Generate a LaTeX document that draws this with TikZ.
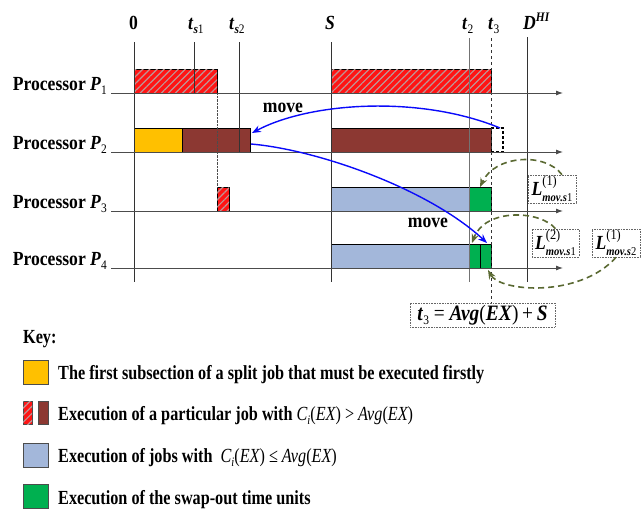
\documentclass[tikz,border=0pt]{standalone}
\usepackage{fontspec}
\setmainfont{Liberation Serif}[FakeStretch=0.88]
\newfontfamily\legfont{Liberation Serif}[FakeStretch=0.81]
\usetikzlibrary{arrows.meta,patterns.meta}
\definecolor{hred}{RGB}{255,20,20}
\definecolor{hatchc}{RGB}{190,150,150}
\definecolor{brownj}{RGB}{140,56,50}
\definecolor{yelj}{RGB}{255,192,0}
\definecolor{bluej}{RGB}{163,183,218}
\definecolor{greenj}{RGB}{0,176,80}
\definecolor{olivec}{RGB}{90,105,50}
\definecolor{arrblue}{RGB}{10,10,250}
\newcommand{\bi}[1]{\textbf{\textit{#1}}}
\newcommand{\lsub}[1]{\raisebox{-0.45ex}{\fontsize{13}{13}\selectfont #1}}
\newcommand{\lsup}[1]{\raisebox{0.85ex}{\fontsize{13}{13}\selectfont #1}}
\newcommand{\Lsup}[1]{\raisebox{1.05ex}{\fontsize{14}{14}\selectfont #1}}
\newcommand{\Lsub}[1]{\raisebox{-0.65ex}{\fontsize{12}{12}\selectfont #1}}
\begin{document}
\begin{tikzpicture}[x=1pt,y=-1pt,
  font=\fontsize{20}{22}\selectfont\bfseries,
  hatched/.style={fill=hred, postaction={pattern={Lines[angle=45,distance=5pt,line width=1.2pt]}, pattern color=hatchc}},
  bar/.style={draw=black, line width=0.9pt},
  axis/.style={draw=black!70, line width=0.9pt, -{Latex[length=7pt,width=5pt]}},
  vline/.style={black!80, line width=0.8pt},
  lbl/.style={inner sep=0pt, anchor=base west},
  moveArrow/.style={arrblue, line width=1.4pt, -{Stealth[length=9pt,width=7pt]}},
  swapArrow/.style={olivec, line width=1.6pt, dash pattern=on 6pt off 4pt, -{Stealth[length=9pt,width=7pt]}},
  lbox/.style={draw=black!60, densely dotted, line width=0.6pt, inner sep=1pt},
  legtext/.style={inner sep=0pt, anchor=base west, font=\fontsize{20}{22}\selectfont\bfseries\legfont},
]
\path[use as bounding box] (0,0) rectangle (641,509);

% bars
\draw[bar, hatched] (134,69) rectangle (217,93);
\draw[bar, hatched] (331,69) rectangle (491,93);
\draw[bar, fill=yelj] (134,128) rectangle (182,152);
\draw[bar, fill=brownj] (182,128) rectangle (250,152);
\draw[bar, fill=brownj] (331,128) rectangle (491,152);
\draw[black, line width=1.1pt, dash pattern=on 3pt off 2pt] (491,128) -- (503,128) -- (503,152) -- (491,152);
\draw[bar, hatched] (217,187) rectangle (229,211);
\draw[bar, fill=bluej] (331,187) rectangle (469,211);
\draw[bar, fill=greenj] (469,187) rectangle (491,211);
\draw[bar, fill=bluej] (331,244) rectangle (469,268);
\draw[bar, fill=greenj] (469,244) rectangle (480,268);
\draw[bar, fill=greenj] (480,244) rectangle (491,268);

% vertical time lines
\draw[vline] (134,42) -- (134,282);
\draw[vline] (194,42) -- (194,93);
\draw[vline] (239,42) -- (239,152);
\draw[vline] (331,42) -- (331,282);
\draw[vline, black!55] (469,38) -- (469,282);
\draw[vline, dashed] (491,38) -- (491,303);
\draw[vline] (527,37) -- (527,282);
\draw[densely dotted, black!70] (217,93) -- (217,187);

% axes
\draw[axis] (111,93) -- (563,93);
\draw[axis] (111,152) -- (563,152);
\draw[axis] (111,211) -- (563,211);
\draw[axis] (111,268) -- (563,268);

% processor labels
\node[lbl, anchor=base east] (p1) at (107,90) {Processor \bi{P}\lsub{\mdseries 1}};
\node[lbl, anchor=base east] (p2) at (107,149) {Processor \bi{P}\lsub{\mdseries 2}};
\node[lbl, anchor=base east] (p3) at (107,208) {Processor \bi{P}\lsub{\mdseries 3}};
\node[lbl, anchor=base east] (p4) at (107,265) {Processor \bi{P}\lsub{\mdseries 4}};

% top labels
\node[lbl] (l0) at (129,29) {0};
\node[lbl] (lts1) at (188,29) {\bi{t}\lsub{\bi{s}\mdseries 1}};
\node[lbl] (lts2) at (229,29) {\bi{t}\lsub{\bi{s}\mdseries 2}};
\node[lbl] (lS) at (325,29) {\bi{S}};
\node[lbl] (lt2) at (462,29) {\bi{t}\lsub{\mdseries 2}};
\node[lbl] (lt3) at (488,29) {\bi{t}\lsub{\mdseries 3}};
\node[lbl] (lD) at (523,29) {\bi{D}\lsup{\bi{HI}}};

% move labels
\node (mv1) at (283,108) {move};
\node (mv2) at (428,223) {move};

% L boxes
\node[lbox, minimum width=48pt, minimum height=28pt] (L1) at (552,189)
  {\bi{L}\rlap{\Lsup{\mdseries(1)}}\Lsub{\bi{mov.s}\mdseries 1}};
\node[lbox, minimum width=47pt, minimum height=28pt] (L2) at (555.5,243)
  {\bi{L}\rlap{\Lsup{\mdseries(2)}}\Lsub{\bi{mov.s}\mdseries 1}};
\node[lbox, minimum width=48pt, minimum height=28pt] (L3) at (616,243)
  {\bi{L}\rlap{\Lsup{\mdseries(1)}}\Lsub{\bi{mov.s}\mdseries 2}};

% formula box
\node[lbox, minimum width=145pt, minimum height=24pt, font=\fontsize{22}{22}\selectfont\bfseries] (f3) at (482.5,315)
  {\bi{t}\lsub{\mdseries 3} {\mdseries =} \bi{Avg}{\mdseries (}\bi{EX}{\mdseries )}\,{\mdseries +}\,\bi{S}};

% connector end points
\coordinate (a1s) at (500,128);
\coordinate (a1e) at (252,133);
\coordinate (a2s) at (251,144);
\coordinate (a2e) at (487,243);
\coordinate (g3) at (480,187);
\coordinate (g4a) at (472,243);
\coordinate (g4b) at (488,270);

\draw[moveArrow] (a1s) .. controls (420,95) and (310,102) .. (a1e);
\draw[moveArrow] (a2s) .. controls (320,150) and (430,190) .. (a2e);

\draw[swapArrow] ([xshift=10pt]L1.north) .. controls (545,152) and (495,155) .. (g3);
\draw[swapArrow] (L2.north) .. controls (540,210) and (485,208) .. (g4a);
\draw[swapArrow] (L3.south) .. controls (580,298) and (500,292) .. (g4b);

% legend
\node[legtext] (key) at (23,343) {Key:};
\draw[draw=black!70, line width=0.9pt, fill=yelj] (23,360) rectangle (48,384);
\draw[draw=black!70, line width=0.9pt, hatched] (23,401) rectangle (32,424);
\draw[draw=black!70, line width=0.9pt, fill=brownj] (38,401) rectangle (48,424);
\draw[draw=black!70, line width=0.9pt, fill=bluej] (23,443) rectangle (48,467);
\draw[draw=black!70, line width=0.9pt, fill=greenj] (23,484) rectangle (48,508);
\node[legtext] (k1) at (58,379) {The first subsection of a split job that must be executed firstly};
\node[legtext] (k2) at (58,420) {Execution of a particular job with {\mdseries\itshape C\lsub{i}\upshape(\itshape EX\upshape) > \itshape Avg\upshape(\itshape EX\upshape)}};
\node[legtext] (k3) at (58,462) {Execution of jobs with\ \ {\mdseries\itshape C\lsub{i}\upshape(\itshape EX\upshape) ≤ \itshape Avg\upshape(\itshape EX\upshape)}};
\node[legtext] (k4) at (58,504) {Execution of the swap-out time units};
\end{tikzpicture}
\end{document}
